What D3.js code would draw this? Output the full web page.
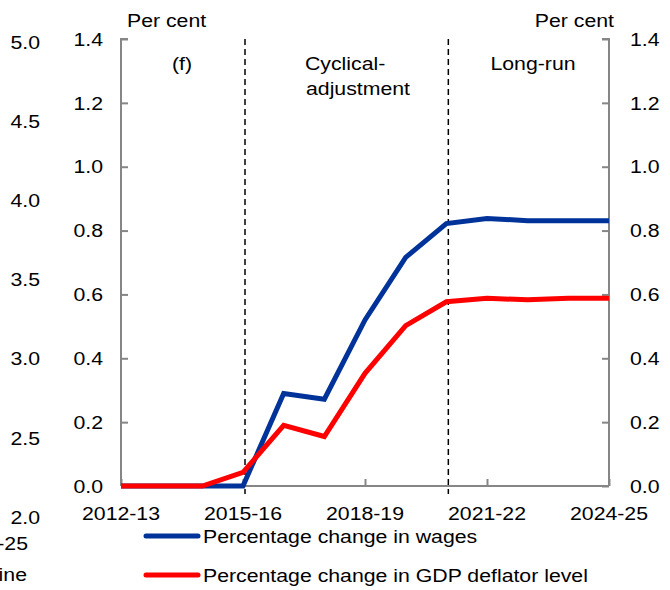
<!DOCTYPE html>
<html>
<head>
<meta charset="utf-8">
<script src="https://cdn.jsdelivr.net/npm/d3@7"></script>
<style>
  html, body { margin: 0; padding: 0; background: #fff; }
  svg { display: block; font-family: "Liberation Sans", Arial, sans-serif; }
</style>
</head>
<body>
<svg id="chart" width="670" height="590"></svg>
<script>
// Financial years on the horizontal axis
const years = ["2012-13","2013-14","2014-15","2015-16","2016-17","2017-18","2018-19",
               "2019-20","2020-21","2021-22","2022-23","2023-24","2024-25"];
const xTickLabels = ["2012-13","2015-16","2018-19","2021-22","2024-25"];

// Per cent deviation from baseline
const wages    = [0, 0, 0, 0, 0.29, 0.272, 0.52, 0.716, 0.822, 0.838, 0.831, 0.831, 0.831];
const deflator = [0, 0, 0, 0.043, 0.19, 0.155, 0.353, 0.502, 0.577, 0.588, 0.583, 0.588, 0.588];

const yTicks = [0, 0.2, 0.4, 0.6, 0.8, 1.0, 1.2, 1.4];
// Axis of the neighbouring panel, partly visible at the left edge
const sideTicks = [2.0, 2.5, 3.0, 3.5, 4.0, 4.5, 5.0];

// Phase boundaries (dashed lines)
const phaseBreaks = ["2015-16", "2020-21"];

const seriesNames = ["Percentage change in wages", "Percentage change in GDP deflator level"];
const seriesColors = ["#003399", "#ff0000"];

const svg = d3.select("#chart");
const pLeft = 121, pRight = 609, pTop = 39, pBottom = 486;

const x = d3.scalePoint().domain(years).range([pLeft, pRight]);
const y = d3.scaleLinear().domain([0, 1.4]).range([pBottom, pTop]);
const ySide = d3.scaleLinear().domain([2.0, 5.0]).range([517, 42]);

const axisColor = "#868686";
const fontSize = 18.5;
const stretch = 1.15;

// Text in the chart's slightly wide typeface
function label(px, py, str, anchor = "start", dy = "0.36em") {
  return svg.append("text")
    .attr("transform", `translate(${px},${py}) scale(${stretch},1)`)
    .attr("dy", dy)
    .attr("text-anchor", anchor)
    .attr("font-size", fontSize)
    .attr("fill", "#000")
    .text(str);
}

// Left axis
const gL = svg.append("g").attr("transform", `translate(${pLeft},0)`)
  .call(d3.axisRight(y).tickValues(yTicks).tickSize(7).tickFormat(""));
gL.select(".domain").attr("stroke", axisColor).attr("stroke-width", 2)
  .attr("d", `M7,${pTop}H0V${pBottom}`);
gL.selectAll(".tick line").attr("stroke", axisColor).attr("stroke-width", 2);
yTicks.forEach(t => label(pLeft - 18, y(t), t.toFixed(1), "end"));

// Right axis
const gR = svg.append("g").attr("transform", `translate(${pRight},0)`)
  .call(d3.axisLeft(y).tickValues(yTicks).tickSize(7).tickFormat(""));
gR.select(".domain").attr("stroke", axisColor).attr("stroke-width", 2)
  .attr("d", `M-7,${pTop}H0V${pBottom}`);
gR.selectAll(".tick line").attr("stroke", axisColor).attr("stroke-width", 2);
yTicks.forEach(t => label(pRight + 21, y(t), t.toFixed(1), "start"));

// Bottom axis
const gB = svg.append("g").attr("transform", `translate(0,${pBottom})`)
  .call(d3.axisTop(x).tickValues(xTickLabels).tickSize(7).tickFormat(""));
gB.select(".domain").attr("stroke", axisColor).attr("stroke-width", 2)
  .attr("d", `M${pLeft},0H${pRight}`);
gB.selectAll(".tick line").attr("stroke", axisColor).attr("stroke-width", 2);
xTickLabels.forEach(t => label(x(t), 520, t, "middle", "0"));

// Neighbouring panel axis labels
sideTicks.forEach(t => label(40, ySide(t), t.toFixed(1), "end"));
label(28, 543, "-25", "end");
label(27, 574, "ine", "end");

// Units
label(127, 27, "Per cent", "start", "0");
label(614, 27, "Per cent", "end", "0");

// Phase dividers
svg.append("g").selectAll("line").data(phaseBreaks).join("line")
  .attr("x1", d => x(d) + 2).attr("x2", d => x(d) + 2)
  .attr("y1", pTop).attr("y2", pBottom + 8)
  .attr("stroke", "#000").attr("stroke-width", 1.5)
  .attr("stroke-dasharray", "6,4");

// Phase labels
label(172, 63, "(f)");
label(305, 63, "Cyclical-");
label(306, 88, "adjustment");
label(533, 63, "Long-run", "middle");

// Series lines
const line = d3.line().x((d, i) => x(years[i])).y(d => y(d));
[wages, deflator].forEach((vals, k) => {
  svg.append("path").datum(vals)
    .attr("fill", "none").attr("stroke", seriesColors[k])
    .attr("stroke-width", 5).attr("stroke-linejoin", "miter")
    .attr("d", line);
});

// Legend
const legY = [536, 575];
seriesNames.forEach((name, k) => {
  svg.append("line").attr("x1", 146).attr("x2", 198)
    .attr("y1", legY[k]).attr("y2", legY[k])
    .attr("stroke", seriesColors[k]).attr("stroke-width", 5).attr("stroke-linecap", "round");
  label(203, legY[k], name);
});
</script>
</body>
</html>
